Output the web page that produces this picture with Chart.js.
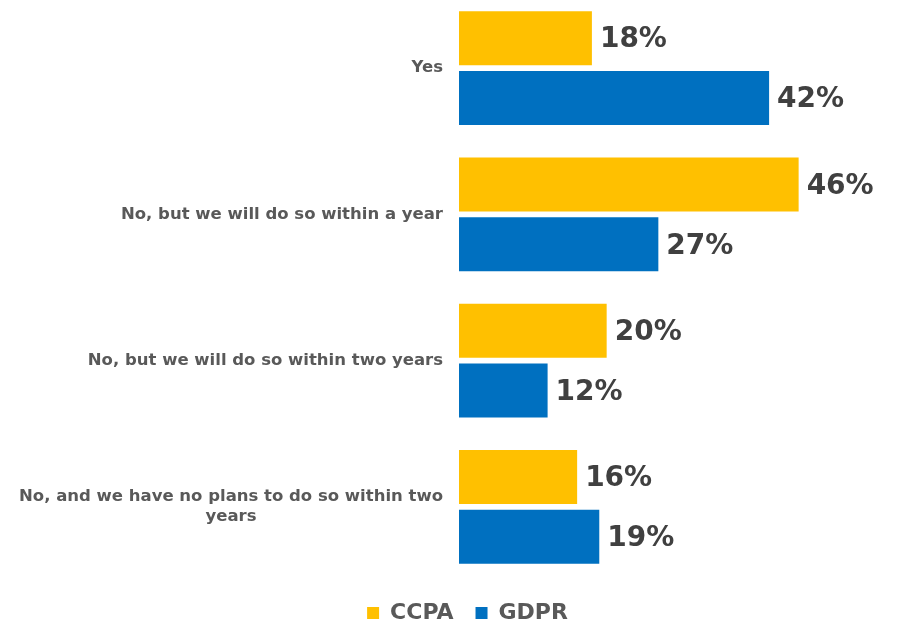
<!DOCTYPE html>
<html>
<head>
<meta charset="utf-8">
<script src="https://cdn.jsdelivr.net/npm/chart.js@4.4.1/dist/chart.umd.min.js"></script>
<style>
  html, body { margin: 0; padding: 0; background: #ffffff; }
  #frame { width: 915px; height: 625px; position: relative; overflow: hidden; }
  /* the plot area starts a little above the page edge */
  #wrap { width: 915px; height: 639px; position: absolute; left: 0; top: -5px; }
</style>
</head>
<body>
<div id="frame"><div id="wrap"><canvas id="chart"></canvas></div></div>
<script>
// survey answers, one entry per category (multi-line labels as arrays)
const categories = [
  ["Yes"],
  ["No, but we will do so within a year"],
  ["No, but we will do so within two years"],
  ["No, and we have no plans to do so within two", "years"]
];
const ccpaValues = [18, 46, 20, 16];
const gdprValues = [42, 27, 12, 19];
const seriesNames = ["CCPA", "GDPR"];

const FONT = "'DejaVu Sans', Verdana, sans-serif";
const LABEL_GREY = "#595959";
const VALUE_GREY = "#404040";
const PAD_LEFT = 33;

// value text at the end of every bar
const valueLabels = {
  id: "valueLabels",
  afterDatasetsDraw(chart) {
    const ctx = chart.ctx;
    ctx.save();
    ctx.font = "bold 28px " + FONT;
    ctx.fillStyle = VALUE_GREY;
    ctx.textAlign = "left";
    ctx.textBaseline = "middle";
    chart.data.datasets.forEach((ds, i) => {
      chart.getDatasetMeta(i).data.forEach((bar, j) => {
        ctx.fillText(ds.data[j] + "%", bar.x + 8, bar.y + 2);
      });
    });
    ctx.restore();
  }
};

// category names: block right-aligned to the axis, lines centred inside the block
const categoryLabels = {
  id: "categoryLabels",
  afterDraw(chart) {
    const ctx = chart.ctx;
    const yScale = chart.scales.y;
    const right = chart.chartArea.left - 16;
    const lineH = 20;
    ctx.save();
    ctx.font = "bold 16.5px " + FONT;
    ctx.fillStyle = LABEL_GREY;
    ctx.textAlign = "center";
    ctx.textBaseline = "middle";
    chart.data.labels.forEach((lines, i) => {
      const w = Math.max(...lines.map(l => ctx.measureText(l).width));
      const cx = right - w / 2;
      const cy = yScale.getPixelForTick(i) - (lines.length - 1) * lineH / 2;
      lines.forEach((l, k) => ctx.fillText(l, cx, cy + k * lineH));
    });
    ctx.restore();
  }
};

new Chart(document.getElementById("chart"), {
  type: "bar",
  plugins: [valueLabels, categoryLabels],
  data: {
    labels: categories,
    datasets: [
      {
        label: seriesNames[0],
        data: ccpaValues,
        backgroundColor: "#FFC000",
        barPercentage: 0.9,
        categoryPercentage: 0.82
      },
      {
        label: seriesNames[1],
        data: gdprValues,
        backgroundColor: "#0070C0",
        barPercentage: 0.9,
        categoryPercentage: 0.82
      }
    ]
  },
  options: {
    indexAxis: "y",
    responsive: true,
    maintainAspectRatio: false,
    animation: false,
    layout: { padding: { top: 0, right: 13, bottom: 0, left: PAD_LEFT } },
    scales: {
      x: {
        min: 0,
        max: 60,
        display: false
      },
      y: {
        grid: { display: false },
        border: { display: false },
        ticks: { display: false },
        afterFit(scale) { scale.width = 459 - PAD_LEFT; }
      }
    },
    plugins: {
      tooltip: { enabled: false },
      legend: {
        position: "bottom",
        labels: {
          color: LABEL_GREY,
          font: { family: FONT, size: 22, weight: "bold" },
          boxWidth: 12,
          boxHeight: 12,
          padding: 22,
          useBorderRadius: false
        }
      }
    }
  }
});
</script>
</body>
</html>
